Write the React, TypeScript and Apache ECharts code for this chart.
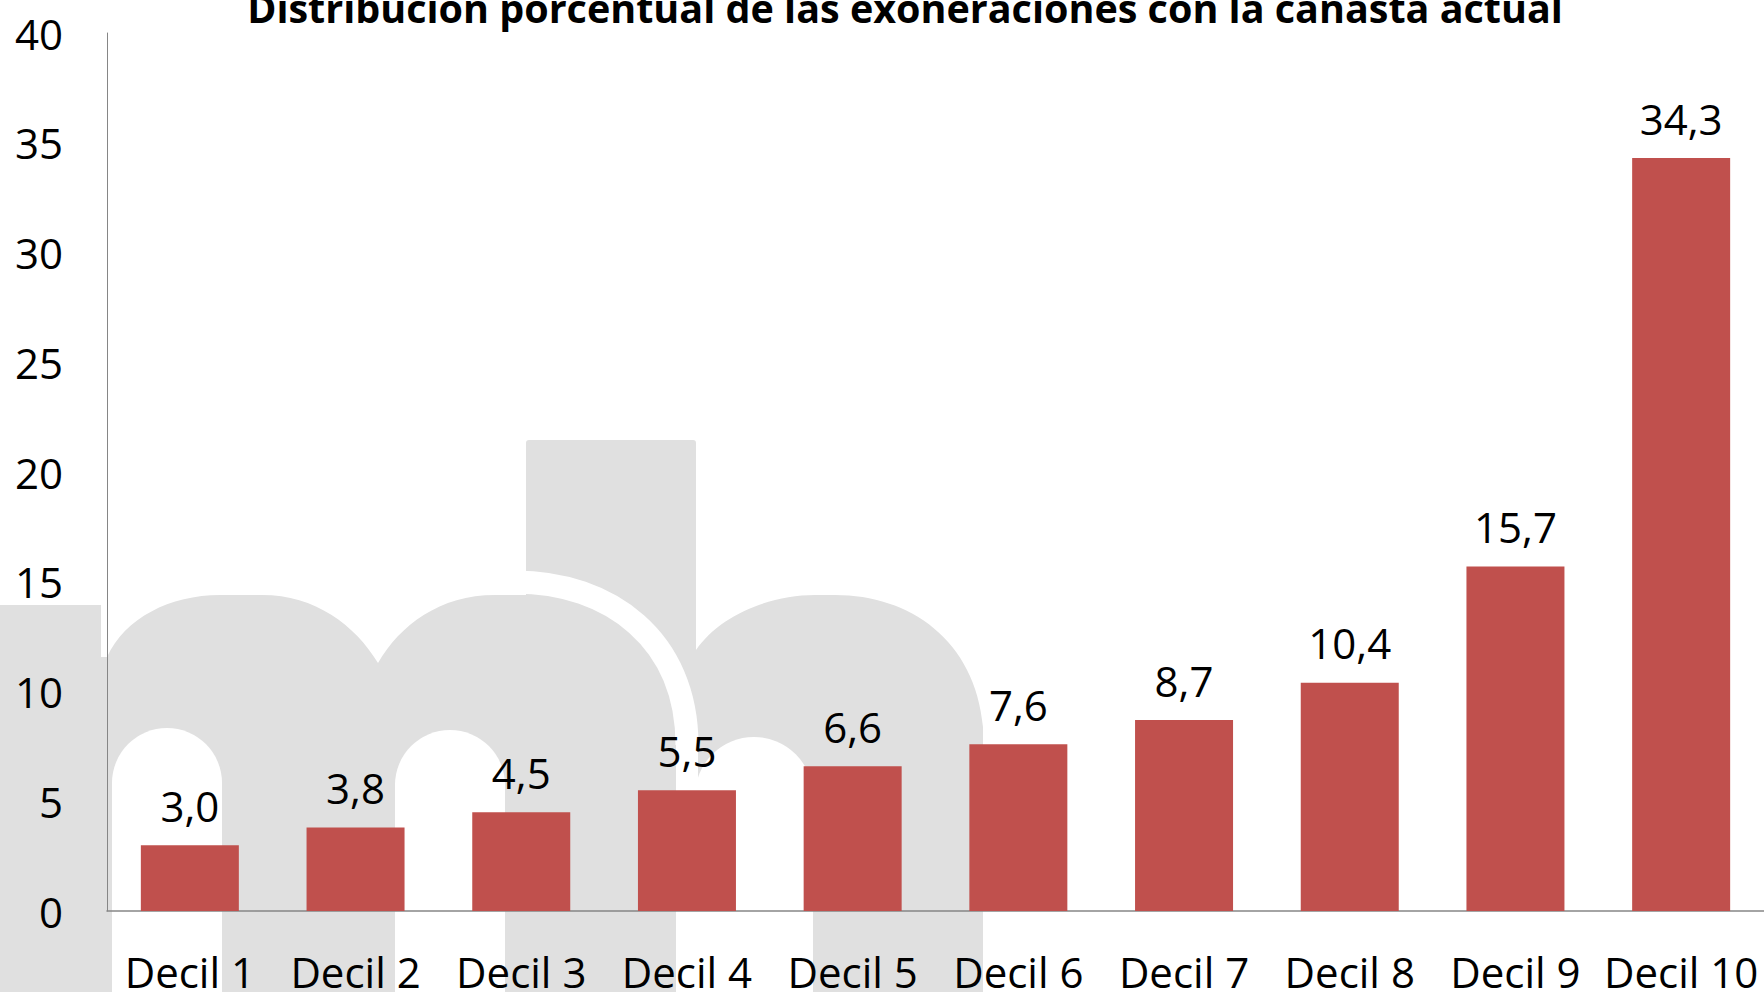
import React, { useEffect, useRef } from "react";
import * as echarts from "echarts";

const categories = ["Decil 1", "Decil 2", "Decil 3", "Decil 4", "Decil 5", "Decil 6", "Decil 7", "Decil 8", "Decil 9", "Decil 10"];
const values = [3.0, 3.8, 4.5, 5.5, 6.6, 7.6, 8.7, 10.4, 15.7, 34.3];
const titleText = "Distribución porcentual de las exoneraciones con la canasta actual";

const LOGO_D =
  "M0,605 L101,605 L101,657 L107,657 " +
  "C125,618 170,595 220,595 L262,595 C315,595 355,625 378,663 " +
  "C400,625 440,595 495,595 L526,595 L526,443 Q526,440 529,440 L693,440 Q696,440 696,443 L696,650 " +
  "C720,615 770,595 815,595 L835,595 C910,595 975,640 983,727 L983,992 L0,992 Z";

let registered = false;

export default function App() {
  const ref = useRef<HTMLDivElement>(null);
  useEffect(() => {
    if (!registered) {
      echarts.graphic.registerShape("logo", echarts.graphic.extendPath(LOGO_D, {}));
      registered = true;
    }
    const chart = echarts.init(ref.current!, undefined, { renderer: "svg" });
    const gray = "#e0e0e0";
    const font = "'Open Sans', sans-serif";
    chart.setOption({
      animation: false,
      backgroundColor: "#ffffff",
      title: {
        text: titleText,
        left: 900,
        top: -17,
        textAlign: "center",
        textStyle: { fontFamily: font, fontWeight: "bold", fontSize: 39.5, color: "#000" },
      },
      graphic: [
        { type: "logo", x: 0, y: 0, z: -10, silent: true, style: { fill: gray } },
        { type: "rect", z: -9, silent: true, shape: { x: 112, y: 728, width: 110, height: 264, r: [55, 55, 0, 0] }, style: { fill: "#fff" } },
        { type: "rect", z: -9, silent: true, shape: { x: 395, y: 730, width: 110, height: 262, r: [55, 55, 0, 0] }, style: { fill: "#fff" } },
        { type: "rect", z: -9, silent: true, shape: { x: 695, y: 737, width: 118, height: 255, r: [59, 59, 0, 0] }, style: { fill: "#fff" } },
        { type: "rect", z: -9, silent: true, shape: { x: 676, y: 740, width: 22, height: 252 }, style: { fill: "#fff" } },
        {
          type: "bezierCurve", z: -9, silent: true,
          shape: { x1: 515, y1: 582, cpx1: 610, cpy1: 582, cpx2: 687, cpy2: 640, x2: 687, y2: 745 },
          style: { stroke: "#fff", lineWidth: 23, fill: "none" },
        },
      ],
      grid: { left: 107, right: 0, top: 33, bottom: 81, containLabel: false },
      xAxis: {
        type: "category",
        data: categories,
        axisLine: { show: true, lineStyle: { color: "#868686", width: 1.5 } },
        axisTick: { show: false },
        axisLabel: { fontFamily: font, fontSize: 42, lineHeight: 30, color: "#000", margin: 45, interval: 0 },
      },
      yAxis: {
        type: "value",
        min: 0,
        max: 40,
        interval: 5,
        splitLine: { show: false },
        axisLine: { show: true, lineStyle: { color: "#868686", width: 1 } },
        axisTick: { show: false },
        axisLabel: { fontFamily: font, fontSize: 42, color: "#000", margin: 44 },
      },
      series: [
        {
          type: "bar",
          data: values,
          barWidth: 98,
          itemStyle: { color: "#c0504d" },
          label: {
            show: true,
            position: "top",
            distance: 19,
            fontFamily: font,
            fontSize: 42,
            color: "#000",
            formatter: (p: any) => Number(p.value).toFixed(1).replace(".", ","),
          },
        },
      ],
    });
    return () => chart.dispose();
  }, []);
  return <div ref={ref} style={{ position: "absolute", left: 0, top: 0, width: 1764, height: 992 }} />;
}
